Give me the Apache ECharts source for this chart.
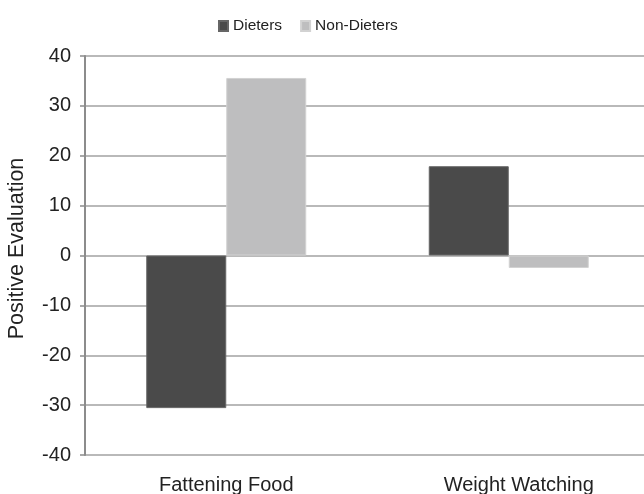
<!DOCTYPE html>
<html>
<head>
<meta charset="utf-8">
<script src="https://cdn.jsdelivr.net/npm/echarts@6/dist/echarts.min.js"></script>
<style>
  html, body { margin: 0; padding: 0; background: #ffffff; }
  #chart { width: 644px; height: 494px; }
</style>
</head>
<body>
<div id="chart"></div>
<script>
// Evaluation scores by group and target behaviour
const categories = ['Fattening Food', 'Weight Watching'];
const dieters = [-30.6, 17.9];
const nonDieters = [35.6, -2.5];
const yTicks = { min: -40, max: 40, interval: 10 };

const chart = echarts.init(document.getElementById('chart'), null, { renderer: 'canvas' });

const FONT = '"Liberation Sans", Arial, sans-serif';

chart.setOption({
  animation: false,
  backgroundColor: '#ffffff',
  textStyle: { fontFamily: FONT },
  legend: {
    left: 213,
    top: 13,
    icon: 'rect',
    itemWidth: 9,
    itemHeight: 10,
    itemGap: 18,
    textStyle: { fontSize: 15.5, color: '#222', fontFamily: FONT },
    data: ['Dieters', 'Non-Dieters']
  },
  // the plot runs past the right edge of the canvas
  grid: { left: 85, top: 56, width: 565, height: 399, containLabel: false, outerBoundsMode: 'none' },
  xAxis: {
    type: 'category',
    data: categories,
    axisLine: { show: false, onZero: false },
    axisTick: { show: false },
    axisLabel: {
      fontSize: 20,
      color: '#222',
      margin: 20,
      fontFamily: FONT,
      formatter: (value, idx) => idx === 1 ? '{shift|' + value + '}' : value,
      rich: { shift: { fontSize: 20, color: '#222', fontFamily: FONT, padding: [0, 0, 0, 20] } }
    },
    splitLine: { show: false }
  },
  yAxis: {
    type: 'value',
    min: yTicks.min,
    max: yTicks.max,
    interval: yTicks.interval,
    name: 'Positive Evaluation',
    nameLocation: 'middle',
    nameGap: 57,
    nameTextStyle: { fontSize: 21.5, color: '#222', fontFamily: FONT, padding: [0, 0, 0, 14] },
    axisLine: { show: true, lineStyle: { color: '#8c8c8c', width: 2 } },
    axisTick: { show: true, length: 5, lineStyle: { color: '#8c8c8c', width: 1.5 } },
    axisLabel: { fontSize: 20, color: '#222', margin: 14, fontFamily: FONT },
    splitLine: { show: true, lineStyle: { color: '#a2a2a2', width: 1.5 } }
  },
  series: [
    {
      name: 'Dieters',
      type: 'bar',
      data: dieters,
      barWidth: 80,
      barGap: '0%',
      itemStyle: { color: '#4a4a4a', borderColor: '#666666', borderWidth: 1 }
    },
    {
      name: 'Non-Dieters',
      type: 'bar',
      data: nonDieters,
      barWidth: 80,
      itemStyle: { color: '#bebebf', borderColor: '#d2d2d2', borderWidth: 1 }
    }
  ]
});
</script>
</body>
</html>
